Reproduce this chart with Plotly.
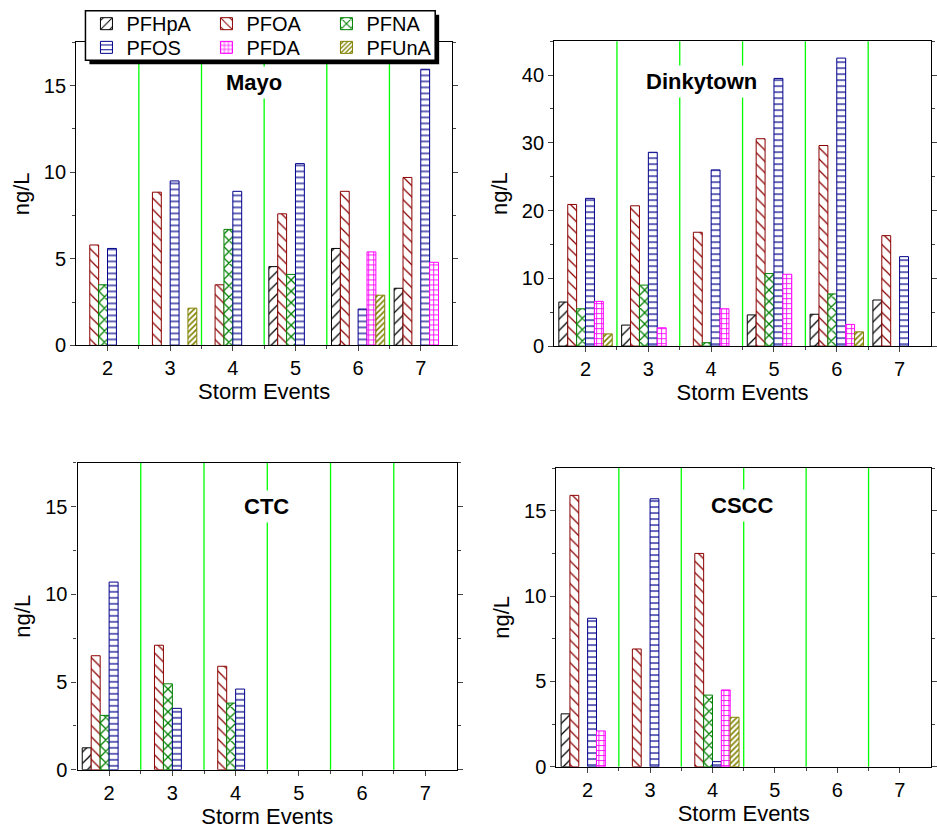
import plotly.graph_objects as go

# ---------------- data ----------------
events = [2, 3, 4, 5, 6, 7]
separators = [2.5, 3.5, 4.5, 5.5, 6.5]
series_names = ["PFHpA", "PFOA", "PFNA", "PFOS", "PFDA", "PFUnA"]
site_names = ["Mayo", "Dinkytown", "CTC", "CSCC"]

mayo_PFHpA = [0, 0, 0, 4.55, 5.6, 3.3]
mayo_PFOA = [5.8, 8.85, 3.5, 7.6, 8.9, 9.7]
mayo_PFNA = [3.5, 0, 6.7, 4.1, 0, 0]
mayo_PFOS = [5.6, 9.5, 8.9, 10.5, 2.1, 15.95]
mayo_PFDA = [0, 0, 0, 0, 5.4, 4.8]
mayo_PFUnA = [0, 2.15, 0, 0, 2.9, 0]

dink_PFHpA = [6.5, 3.1, 0, 4.6, 4.7, 6.8]
dink_PFOA = [20.9, 20.7, 16.8, 30.6, 29.6, 16.3]
dink_PFNA = [5.5, 9.0, 0.5, 10.7, 7.7, 0]
dink_PFOS = [21.8, 28.6, 26.0, 39.5, 42.5, 13.2]
dink_PFDA = [6.6, 2.7, 5.5, 10.6, 3.2, 0]
dink_PFUnA = [1.8, 0, 0, 0, 2.1, 0]

ctc_PFHpA = [1.25, 0, 0, 0, 0, 0]
ctc_PFOA = [6.5, 7.1, 5.9, 0, 0, 0]
ctc_PFNA = [3.1, 4.9, 3.8, 0, 0, 0]
ctc_PFOS = [10.7, 3.5, 4.6, 0, 0, 0]
ctc_PFDA = [0, 0, 0, 0, 0, 0]
ctc_PFUnA = [0, 0, 0, 0, 0, 0]

cscc_PFHpA = [3.1, 0, 0, 0, 0, 0]
cscc_PFOA = [15.9, 6.9, 12.5, 0, 0, 0]
cscc_PFNA = [0, 0, 4.2, 0, 0, 0]
cscc_PFOS = [8.7, 15.7, 0.3, 0, 0, 0]
cscc_PFDA = [2.1, 0, 4.5, 0, 0, 0]
cscc_PFUnA = [0, 0, 2.9, 0, 0, 0]

site_data = [
    [mayo_PFHpA, mayo_PFOA, mayo_PFNA, mayo_PFOS, mayo_PFDA, mayo_PFUnA],
    [dink_PFHpA, dink_PFOA, dink_PFNA, dink_PFOS, dink_PFDA, dink_PFUnA],
    [ctc_PFHpA, ctc_PFOA, ctc_PFNA, ctc_PFOS, ctc_PFDA, ctc_PFUnA],
    [cscc_PFHpA, cscc_PFOA, cscc_PFNA, cscc_PFOS, cscc_PFDA, cscc_PFUnA],
]
y_max = [17.5, 45, 17.5, 17.5]
y_dtick = [5, 10, 5, 5]

# ---------------- styles ----------------
W, H = 937, 836
FONT = "Liberation Sans, Arial, sans-serif"
colors = ["#000000", "#8b0000", "#008000", "#00008b", "#ff00ff", "#808000"]
shapes_p = ["/", "\\", "x", "-", "+", "/"]
psize = [8, 8, 8, 6, 5, 4]
psolid = [0.16, 0.16, 0.3, 0.2, 0.32, 0.4]

# panel boxes in pixels: (left, right, top, bottom)
boxes = [(76.7, 455, 43, 350), (557.7, 937, 41.7, 350.7),
         (78, 460, 469, 780), (560, 937, 474.3, 777)]
title_pos = [(4.344, 15.16), (3.842, 38.98), (4.484, 15.02), (4.468, 15.32)]

fig = go.Figure()

for p in range(4):
    xa = "x" if p == 0 else f"x{p+1}"
    ya = "y" if p == 0 else f"y{p+1}"
    for s in range(6):
        vals = [v if v > 0 else None for v in site_data[p][s]]
        fig.add_trace(go.Bar(
            x=events, y=vals, name=series_names[s],
            xaxis=xa, yaxis=ya,
            marker=dict(color="white",
                        line=dict(color=colors[s], width=1),
                        pattern=dict(shape=shapes_p[s], fgcolor=colors[s], bgcolor="white",
                                     size=psize[s], solidity=psolid[s], fillmode="replace")),
            showlegend=(p == 0),
            legend="legend" if s < 3 else "legend2",
        ))

layout = dict(
    width=W, height=H, margin=dict(l=0, r=0, t=0, b=0, pad=0),
    paper_bgcolor="white", plot_bgcolor="white",
    barmode="group", bargap=0.15, bargroupgap=0,
    font=dict(family=FONT, size=20, color="black"),
)

annotations = []
shapes = []
for p in range(4):
    l, r, t, b = boxes[p]
    sfx = "" if p == 0 else str(p + 1)
    layout["xaxis" + sfx] = dict(
        domain=[l / W, r / W], anchor="y" + sfx, range=[1.5, 7.5],
        tickvals=events, ticks="outside", ticklen=5, tickwidth=1,
        showline=True, linecolor="black", linewidth=1.2, mirror=True,
        showgrid=False, zeroline=False,
        tickfont=dict(size=20),
        minor=dict(tickvals=separators, ticks="outside", ticklen=3, showgrid=False),
        title=dict(text="Storm Events", font=dict(size=22), standoff=0),
    )
    layout["yaxis" + sfx] = dict(
        domain=[1 - b / H, 1 - t / H], anchor="x" + sfx, range=[0, y_max[p]],
        dtick=y_dtick[p], ticks="outside", ticklen=5, tickwidth=1,
        showline=True, linecolor="black", linewidth=1.2, mirror="ticks",
        showgrid=False, zeroline=False,
        tickfont=dict(size=20),
        minor=dict(dtick=y_dtick[p] / 2, ticks="outside", ticklen=3, showgrid=False),
        title=dict(text="ng/L", font=dict(size=22), standoff=8),
    )
    for sep in separators:
        shapes.append(dict(type="line", xref="x" + sfx, yref=("y" + sfx) + " domain",
                           x0=sep, x1=sep, y0=0, y1=1, layer="below",
                           line=dict(color="#00ff00", width=1.3)))
    annotations.append(dict(
        text="<b>" + site_names[p] + "</b>", x=title_pos[p][0], y=title_pos[p][1],
        xref="x" + sfx, yref="y" + sfx, showarrow=False,
        font=dict(size=22, family=FONT), bgcolor="white", borderpad=3,
    ))

layout["annotations"] = annotations

leg_common = dict(orientation="h", entrywidth=75, entrywidthmode="pixels",
                  font=dict(size=20, family=FONT), bgcolor="rgba(0,0,0,0)",
                  borderwidth=0, x=87 / W, xanchor="left", yanchor="middle",
                  traceorder="normal")
layout["legend"] = dict(leg_common, y=1 - 24 / H)
layout["legend2"] = dict(leg_common, y=1 - 48 / H)

# legend frame with drop shadow
lx0, lx1, ly0, ly1 = 86, 438, 11, 61
shapes += [
    dict(type="rect", xref="paper", yref="paper", layer="above",
         x0=(lx0 + 4) / W, x1=(lx1 + 4) / W, y0=1 - (ly1 + 4) / H, y1=1 - (ly0 + 4) / H,
         fillcolor="black", line=dict(width=0)),
    dict(type="rect", xref="paper", yref="paper", layer="above",
         x0=lx0 / W, x1=lx1 / W, y0=1 - ly1 / H, y1=1 - ly0 / H,
         fillcolor="white", line=dict(color="black", width=1.5)),
]
layout["shapes"] = shapes

fig.update_layout(**layout)
fig.write_html("out.html")
